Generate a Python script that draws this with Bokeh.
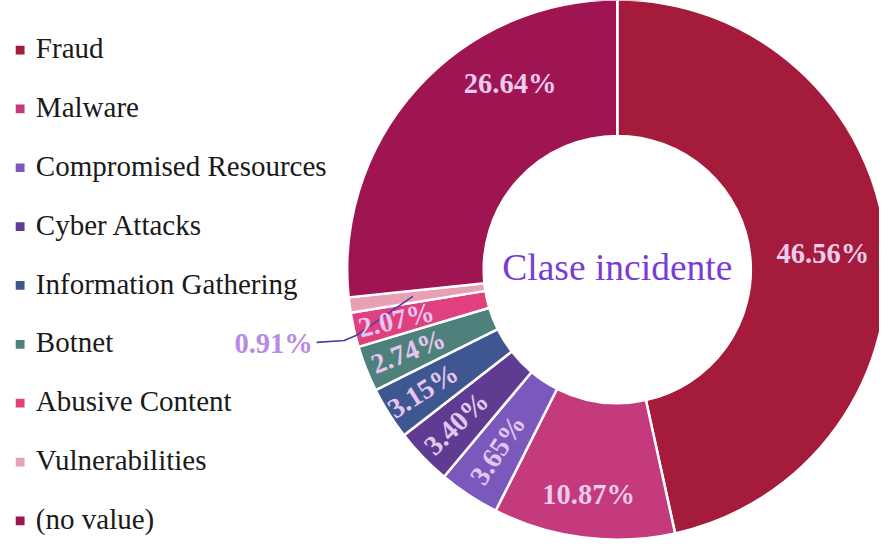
import math
from bokeh.plotting import figure
from bokeh.models import Range1d, ColumnDataSource
from bokeh.core.properties import value
from bokeh.embed import file_html
from bokeh.resources import INLINE

# ---------------- data ----------------
categories = ["Fraud", "Malware", "Compromised Resources", "Cyber Attacks",
              "Information Gathering", "Botnet", "Abusive Content",
              "Vulnerabilities", "(no value)"]
shares = [46.56, 10.87, 3.65, 3.40, 3.15, 2.74, 2.07, 0.91, 26.64]
pct_labels = ["46.56%", "10.87%", "3.65%", "3.40%", "3.15%", "2.74%",
              "2.07%", "0.91%", "26.64%"]
center_title = "Clase incidente"

# ---------------- style ----------------
colors = ["#A51B3B", "#C43A7C", "#7B58BC", "#5F3C92", "#3F5790",
          "#4E807C", "#E0407E", "#E8A0B4", "#9E1552"]
# label placement: fraction along the slice (clockwise) and radius
label_frac = [0.51, 0.5, 0.5, 0.5, 0.5, 0.5, 0.5, 0.5, 0.69]
label_rad = [210, 233, 222, 228, 234, 229, 231, 210, 220]
label_mode = ["h", "h", "r", "r", "r", "r", "r", "out", "h"]

W, H = 879, 541
REF_W, REF_H = 895, 557
FONT = "Liberation Serif"


def sy(y):
    return REF_H - y


CX, CY = 628, sy(277)
R_OUT, R_IN = 275, 136

p = figure(width=W, height=H, x_range=Range1d(0, REF_W),
           y_range=Range1d(0, REF_H), output_backend="svg",
           toolbar_location=None, min_border=0)
p.axis.visible = False
p.grid.visible = False
p.outline_line_color = None
p.background_fill_color = "white"
p.border_fill_color = "white"

total = sum(shares)
starts, ends, cums = [], [], []
c = 0.0
for s in shares:
    c0 = c
    c += s / total
    cums.append((c0, c))
    starts.append(math.pi / 2 - 2 * math.pi * c0)
    ends.append(math.pi / 2 - 2 * math.pi * c)

src = ColumnDataSource(dict(start=starts, end=ends, color=colors))
p.annular_wedge(x=CX, y=CY, inner_radius=R_IN, outer_radius=R_OUT,
                start_angle="start", end_angle="end", direction="clock",
                fill_color="color", line_color="white", line_width=2.5,
                source=src)

# ---------------- slice labels ----------------
hx, hy, ht = [], [], []
rx, ry, rt, ra = [], [], [], []
for i, (c0, c1) in enumerate(cums):
    frac = c0 + (c1 - c0) * label_frac[i]
    th = math.pi / 2 - 2 * math.pi * frac
    x = CX + label_rad[i] * math.cos(th)
    y = CY + label_rad[i] * math.sin(th)
    if label_mode[i] == "h":
        hx.append(x); hy.append(y); ht.append(pct_labels[i])
    elif label_mode[i] == "r":
        rx.append(x); ry.append(y); rt.append(pct_labels[i])
        ra.append(th + math.pi)
    else:
        # outside label with leader line
        px, py = x, y
        lx, ly = 318, sy(353)
        p.line(x=[px, 362, 350, 322], y=[py, sy(345), sy(350), sy(352)],
               line_color="#4A3FA0", line_width=1.6)
        p.text(x=[lx], y=[ly], text=[pct_labels[i]], text_align="right",
               text_baseline="middle", text_color="#B88AE6",
               text_font=value(FONT), text_font_style="bold",
               text_font_size="28.5px")

p.text(x=hx, y=hy, text=ht, text_align="center", text_baseline="middle",
       text_color="#ECCBEF", text_font=value(FONT), text_font_style="bold",
       text_font_size="28.5px")
p.text(x=rx, y=ry, text=rt, angle=ra, text_align="center",
       text_baseline="middle", text_color="#E6C6F0", text_font=value(FONT),
       text_font_style="bold", text_font_size="28px")

# ---------------- center title ----------------
p.text(x=[CX], y=[sy(275)], text=[center_title], text_align="center",
       text_baseline="middle", text_color="#7A3CD6", text_font=value(FONT),
       text_font_size="37.5px")

# ---------------- legend ----------------
ly0, lstep = 49, 60.6
leg_y = [sy(ly0 + k * lstep) for k in range(len(categories))]
p.rect(x=[20] * len(categories), y=[v - 2 for v in leg_y], width=9, height=9,
       fill_color=colors, line_color=None)
p.text(x=[36] * len(categories), y=leg_y, text=categories, text_align="left",
       text_baseline="middle", text_color="#1A1A1A", text_font=value(FONT),
       text_font_size="29px")

open("out.html", "w").write(file_html(p, INLINE))
